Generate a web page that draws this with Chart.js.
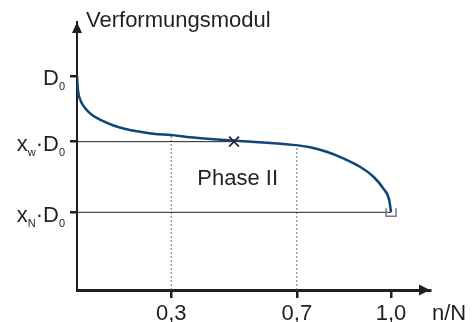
<!DOCTYPE html>
<html>
<head>
<meta charset="utf-8">
<script src="https://cdn.jsdelivr.net/npm/chart.js@4"></script>
<style>
  html, body { margin: 0; padding: 0; background: #fff; }
</style>
</head>
<body>
<canvas id="canvas" width="475" height="322"></canvas>
<script>
// the curve (x = n/N, y = modulus relative to D0)
let curveX = [0, 0.003, 0.0105, 0.026, 0.048, 0.08, 0.112, 0.154, 0.196, 0.249, 0.3, 0.35, 0.497, 0.688, 0.742, 0.795, 0.848, 0.901, 0.944, 0.975, 0.994, 1.0];
let curveY = [1.0, 0.935, 0.888, 0.849, 0.818, 0.791, 0.771, 0.752, 0.74, 0.729, 0.724, 0.715, 0.698, 0.678, 0.667, 0.646, 0.615, 0.576, 0.529, 0.475, 0.421, 0.363];

// levels on the y axis
let levelD0 = 1.0;
let levelXw = 0.693;
let levelXn = 0.363;

// x ticks and their labels
let xTicks = [0.3, 0.7, 1.0];
let xTickLabels = ['0,3', '0,7', '1,0'];

// where the Xw point sits, and where the dotted lines meet the curve
let xwPointX = 0.5;
let dottedX = [0.3, 0.7];
let dottedTop = [0.724, 0.675];

let ink = '#231f20';
let font = "'Liberation Sans', Arial, sans-serif";

let points = curveX.map((x, i) => ({ x: x, y: curveY[i] }));

// labels next to the y ticks, split into normal and subscript pieces
let yLabels = {};
yLabels[levelD0] = [['D', 0], ['0', 1]];
yLabels[levelXw] = [['x', 0], ['w', 1], ['·D', 0], ['0', 1]];
yLabels[levelXn] = [['x', 0], ['N', 1], ['·D', 0], ['0', 1]];

let decorations = {
  id: 'decorations',
  afterDraw(chart) {
    let ctx = chart.ctx;
    let area = chart.chartArea;
    let xs = chart.scales.x;
    let ys = chart.scales.y;
    ctx.save();

    // arrow heads
    ctx.fillStyle = ink;
    ctx.beginPath();
    ctx.moveTo(area.left, area.top);
    ctx.lineTo(area.left - 5, area.top + 11);
    ctx.lineTo(area.left + 5, area.top + 11);
    ctx.closePath();
    ctx.fill();
    ctx.beginPath();
    ctx.moveTo(area.right, area.bottom);
    ctx.lineTo(area.right - 11, area.bottom - 5.5);
    ctx.lineTo(area.right - 11, area.bottom + 5.5);
    ctx.closePath();
    ctx.fill();

    // y tick labels with subscripts
    ctx.textBaseline = 'alphabetic';
    ctx.textAlign = 'left';
    ys.ticks.forEach(t => {
      let parts = yLabels[t.value];
      if (!parts) return;
      let w = 0;
      parts.forEach(p => {
        ctx.font = (p[1] ? '11px ' : '22px ') + font;
        w += ctx.measureText(p[0]).width;
      });
      let x = area.left - 12 - w;
      let base = ys.getPixelForValue(t.value) + 9.5;
      parts.forEach(p => {
        ctx.font = (p[1] ? '11px ' : '22px ') + font;
        ctx.fillText(p[0], x, base + (p[1] ? 5 : 0));
        x += ctx.measureText(p[0]).width;
      });
    });

    // axis titles and the phase label
    ctx.font = '22px ' + font;
    ctx.fillText('Verformungsmodul', area.left + 9, 27);
    ctx.fillText('n/N', area.right + 2, 320);
    ctx.fillText('Phase II', xs.getPixelForValue(0.383), ys.getPixelForValue(0.49));

    // little end marker at the last point
    let ex = xs.getPixelForValue(curveX[curveX.length - 1]);
    let ey = ys.getPixelForValue(levelXn);
    ctx.strokeStyle = '#7a7a7a';
    ctx.lineWidth = 1.5;
    ctx.beginPath();
    ctx.moveTo(ex - 5, ey - 4);
    ctx.lineTo(ex - 5, ey + 4);
    ctx.lineTo(ex + 5, ey + 4);
    ctx.lineTo(ex + 5, ey - 4);
    ctx.stroke();
    ctx.restore();
  }
};

let datasets = [
  {
    data: points,
    borderColor: '#0f4577',
    borderWidth: 2.5,
    pointRadius: 0,
    cubicInterpolationMode: 'monotone',
    order: 0
  },
  {
    data: [{ x: 0, y: levelXw }, { x: xwPointX, y: levelXw }],
    borderColor: ink,
    borderWidth: 1,
    pointRadius: 0,
    order: 1
  },
  {
    data: [{ x: 0, y: levelXn }, { x: 1.0, y: levelXn }],
    borderColor: ink,
    borderWidth: 1,
    pointRadius: 0,
    order: 1
  }
];

dottedX.forEach((x, i) => {
  datasets.push({
    data: [{ x: x, y: 0 }, { x: x, y: dottedTop[i] }],
    borderColor: '#6d6d6d',
    borderWidth: 1,
    borderDash: [2, 2],
    pointRadius: 0,
    order: 2
  });
});

// the X marker on the curve
datasets.push({
  data: [{ x: xwPointX, y: levelXw }],
  showLine: false,
  pointStyle: 'crossRot',
  pointRadius: 7,
  borderColor: '#2b2b2b',
  borderWidth: 1.8,
  order: -1
});

let options = {
  type: 'line',
  data: { datasets: datasets },
  options: {
    responsive: false,
    animation: false,
    layout: { padding: { left: 0, top: 22, right: 45, bottom: 0 } },
    plugins: { legend: { display: false }, tooltip: { enabled: false } },
    scales: {
      x: {
        type: 'linear',
        min: 0,
        max: 1.124,
        afterBuildTicks: s => { s.ticks = xTicks.map(v => ({ value: v })); },
        afterFit: s => { s.height = 32; },
        ticks: {
          callback: v => xTickLabels[xTicks.indexOf(v)],
          font: { family: font, size: 22 },
          color: ink,
          padding: 3,
          maxRotation: 0,
          autoSkip: false
        },
        grid: { drawOnChartArea: false, drawTicks: true, tickLength: 8, lineWidth: 2.5, color: ink },
        border: { display: true, width: 3, color: ink }
      },
      y: {
        type: 'linear',
        min: 0,
        max: 1.252,
        afterBuildTicks: s => { s.ticks = [levelXn, levelXw, levelD0].map(v => ({ value: v })); },
        afterFit: s => { s.width = 77; },
        ticks: { display: false },
        grid: { drawOnChartArea: false, drawTicks: true, tickLength: 7, lineWidth: 2.5, color: ink },
        border: { display: true, width: 2, color: ink }
      }
    }
  },
  plugins: [decorations]
};

let chart = new Chart(document.getElementById('canvas'), options);
</script>
</body>
</html>
